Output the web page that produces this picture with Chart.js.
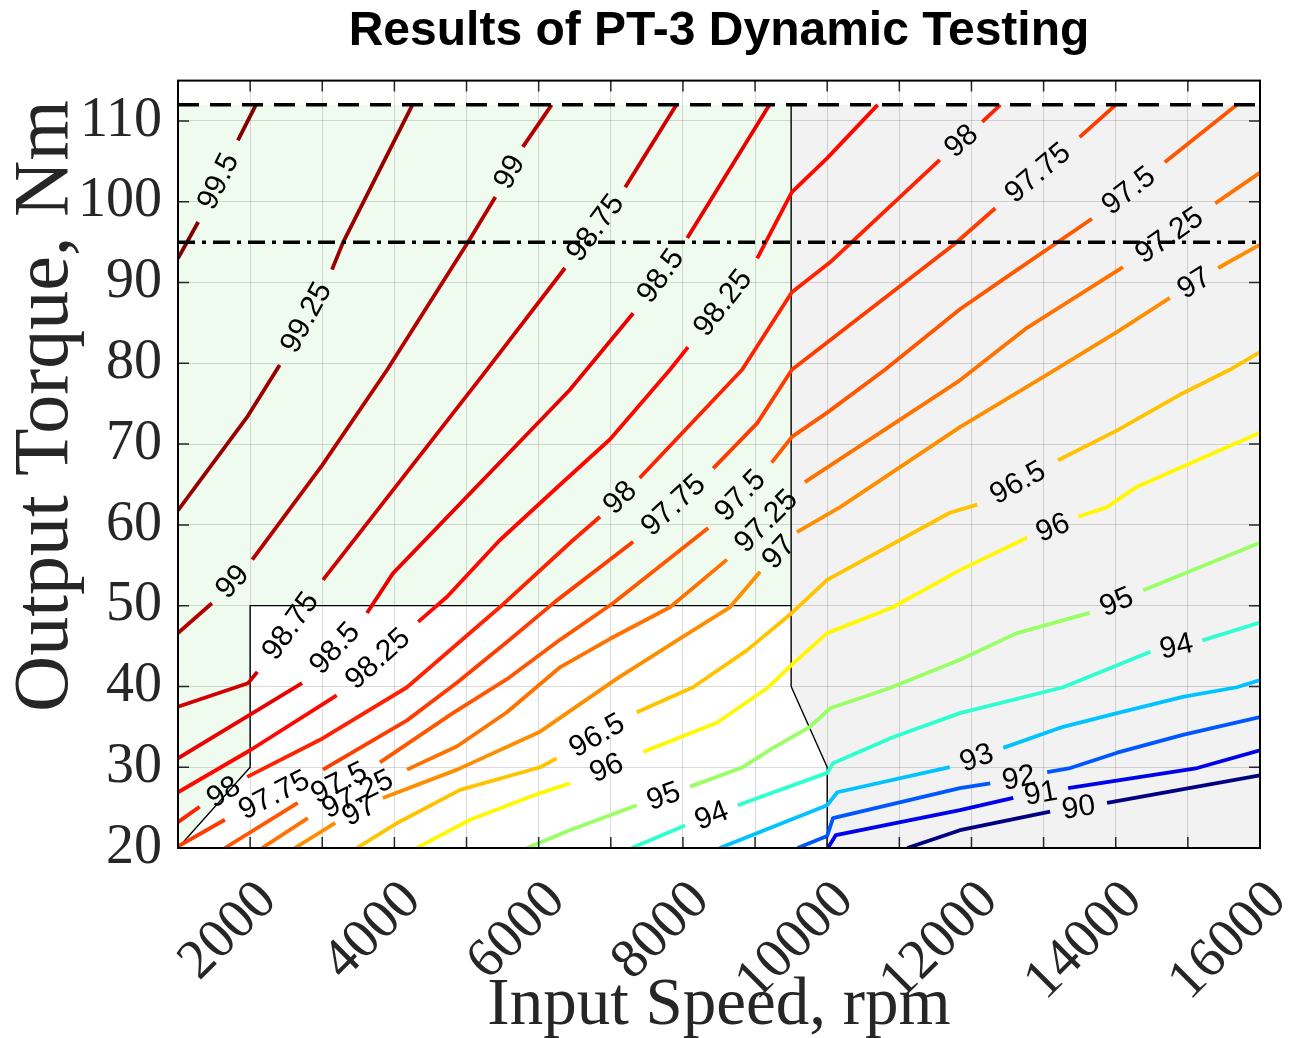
<!DOCTYPE html>
<html lang="en">
<head>
<meta charset="UTF-8">
<title>Results of PT-3 Dynamic Testing</title>
<script src="https://cdn.jsdelivr.net/npm/chart.js"></script>
<style>
  html, body { margin: 0; padding: 0; background: #fff; }
  .chart-container { width: 1306px; height: 1038px; }
</style>
</head>
<body>
<div class="chart-container"><canvas id="myChart" width="1306" height="1038"></canvas></div>
<script>
// axes
const speedRange = [1000, 16000];
const torqueRange = [20, 115];
const speedTickLabels = [2000, 4000, 6000, 8000, 10000, 12000, 14000, 16000];
const torqueTickLabels = [20, 30, 40, 50, 60, 70, 80, 90, 100, 110];

// operating regions [rpm, Nm]
const greenRegion = [[1000, 20], [2000, 30], [2000, 50], [9500, 50], [9500, 112], [1000, 112]];
const grayRegion = [[9500, 112], [9500, 40], [10000, 30], [10000, 20], [16000, 20], [16000, 112]];
const boundaryLow = [[1000, 20], [2000, 30], [2000, 50], [9500, 50]];
const boundaryHigh = [[9500, 112], [9500, 40], [10000, 30], [10000, 20]];
const peakTorque = 112;
const contTorque = 95;

// efficiency contours, each is a list of pieces; a label sits in every gap
const contourLevels = [90, 91, 92, 93, 94, 95, 96, 96.5, 97, 97.25, 97.5, 97.75, 98, 98.25, 98.5, 98.75, 99, 99.25, 99.5];
const c90 = [[[11110, 20], [11840, 22.2], [13090, 24.5]], [[13880, 25.6], [16000, 29.0]]];
const c91 = [[[10010, 20], [10120, 21.6], [11840, 24.7], [12580, 26.2]], [[13340, 27.4], [15130, 29.9], [16000, 32.1]]];
const c92 = [[[9590, 20], [10000, 21.5], [10080, 23.7], [11840, 27.4], [12260, 28.0]], [[13050, 29.4], [13370, 29.9], [14020, 31.8], [14930, 34.0], [16000, 36.2]]];
const c93 = [[[8510, 20], [10000, 25.3], [10140, 26.9], [11700, 30.0]], [[12440, 32.4], [13270, 35.0], [14020, 36.7], [14930, 38.7], [15680, 39.9], [16000, 40.8]]];
const c94 = [[[7290, 20], [8030, 22.8]], [[8760, 25.3], [10000, 29.3], [10080, 30.5], [10910, 33.7], [11840, 36.7], [13270, 39.9], [14480, 44.3]], [[15200, 45.7], [16000, 47.9]]];
const c95 = [[[5840, 20], [6430, 22.2], [7360, 25.3]], [[8100, 27.6], [8830, 30.0], [9250, 32.4], [9760, 35.0], [10040, 37.3], [10870, 39.8], [11840, 43.3], [12630, 46.6], [13640, 49.1]], [[14380, 51.9], [16000, 57.8]]];
const c96 = [[[4310, 20], [5050, 23.5], [6020, 26.8], [6430, 28.0]], [[7450, 31.9], [8470, 35.5], [9170, 39.8], [9510, 42.7], [10000, 46.6], [10910, 49.8], [11840, 54.4], [12770, 58.4]], [[13480, 61.0], [13880, 62.2], [14290, 64.7], [15540, 69.6], [16000, 71.4]]];
const c96_5 = [[[3480, 20], [4040, 23.1], [4910, 27.2], [6020, 30.0], [6250, 31.1]], [[7360, 36.8], [8140, 39.9], [8890, 44.5], [9510, 49.1], [10000, 53.2], [11700, 61.5], [12080, 62.5]], [[13200, 68.0], [14020, 71.7], [14930, 76.3], [15580, 79.2], [16000, 81.4]]];
const c97 = [[[2620, 20], [3180, 23.1]], [[3840, 26.2], [4870, 29.7], [6020, 34.4], [7090, 41.0], [7920, 45.7], [8650, 49.8], [9070, 54.2]], [[9580, 59.1], [10180, 62.2], [11840, 72.1], [13050, 78.6], [14020, 83.9], [14750, 88.1]], [[15420, 91.8], [16000, 94.7]]];
const c97_25 = [[[2165, 20], [2800, 23.7]], [[4175, 29.7], [4870, 32.6], [5560, 36.8], [6300, 42.4], [6990, 45.9], [7820, 49.8], [8610, 55.7]], [[9690, 65.3], [11840, 77.9], [12770, 84.4], [14100, 91.9]], [[15380, 99.8], [16000, 103.6]]];
const c97_5 = [[[1650, 20], [2660, 25.6]], [[3800, 30.6], [4810, 36.7], [5560, 40.9], [6300, 45.8], [7030, 50.3], [8350, 59.6]], [[9230, 67.7], [9510, 70.9], [10000, 73.9], [10800, 79.2], [11840, 86.7], [12440, 90.4], [13670, 97.9]], [[14680, 104.9], [15680, 112]]];
const c97_75 = [[[1000, 20.2], [1650, 23.5]], [[3010, 29.7], [4175, 35.8], [4870, 40.5], [5560, 45.5], [6230, 50.5], [7310, 57.9]], [[8420, 67.0], [9030, 72.6], [9510, 79.2], [11770, 94.8], [12330, 99.2]], [[13500, 108.0], [14000, 112]]];
const c98 = [[[1000, 23.2], [1300, 25.1]], [[1960, 28.8], [2970, 33.4], [4175, 39.9], [5460, 49.8], [6475, 58.1], [6850, 61.0]], [[7400, 65.8], [8820, 79.2], [9510, 88.8], [10040, 92.5], [11560, 105.2]], [[12150, 109.9], [12400, 112]]];
const c98_25 = [[[1000, 26.9], [2000, 32.1], [3200, 38.9]], [[4330, 48.0], [4730, 51.1], [5460, 58.1], [6300, 65.0], [6990, 70.6], [7820, 79.2], [8070, 82.0]], [[9030, 93.0], [9510, 101.2], [10000, 105.4], [10700, 112]]];
const c98_5 = [[[1000, 31.1], [2000, 36.5], [2720, 40.4]], [[3620, 49.1], [3980, 54.0], [6430, 76.7], [7310, 86.2]], [[8060, 95.5], [9200, 112]]];
const c98_75 = [[[1000, 37.5], [1970, 40.4], [2100, 41.8]], [[3010, 53.2], [5230, 78.6], [6365, 91.8]], [[7200, 101.8], [7910, 112]]];
const c99 = [[[1000, 46.6], [1470, 50.3]], [[2030, 55.7], [3000, 67.4], [3900, 79.2], [5020, 95.0], [5400, 100.6]], [[5780, 106.8], [6180, 112]]];
const c99_25 = [[[1000, 61.8], [1970, 73.5], [2410, 79.8]], [[3135, 91.6], [3290, 95.0], [4250, 112]]];
const c99_5 = [[[1000, 93.0], [1280, 97.5]], [[1830, 107.6], [2080, 112]]];
const contourLines = [c90, c91, c92, c93, c94, c95, c96, c96_5, c97, c97_25, c97_5, c97_75, c98, c98_25, c98_5, c98_75, c99, c99_25, c99_5];

const serif = "'Liberation Serif', 'Times New Roman', serif";
const sans = "'Liberation Sans', Arial, sans-serif";

// MATLAB jet colours over the level range
function jet(level) {
    const lo = contourLevels[0], hi = contourLevels[contourLevels.length - 1];
    const t = (level - lo) / (hi - lo);
    const f = v => Math.round(255 * Math.max(0, Math.min(1, v)));
    return `rgb(${f(Math.min(4 * t - 1.5, -4 * t + 4.5))},${f(Math.min(4 * t - 0.5, -4 * t + 3.5))},${f(Math.min(4 * t + 0.5, -4 * t + 2.5))})`;
}

const toXY = pts => pts.map(([s, t]) => ({ x: s, y: t }));

function lineSet(pts, color, width, dash) {
    return {
        data: toXY(pts), showLine: true, borderColor: color, borderWidth: width,
        borderDash: dash || [], pointRadius: 0, fill: false, tension: 0,
        borderJoinStyle: 'round', borderCapStyle: 'butt'
    };
}

const datasets = [];
// reference torque lines on top
datasets.push(lineSet([[speedRange[0], contTorque], [speedRange[1], contTorque]], '#000', 3.5, [17, 7, 4, 7]));
datasets.push(lineSet([[speedRange[0], peakTorque], [speedRange[1], peakTorque]], '#000', 3.5, [21, 11]));
contourLines.forEach((pieces, k) => {
    pieces.forEach(p => datasets.push(lineSet(p, jet(contourLevels[k]), 3.8)));
});
datasets.push(lineSet(boundaryLow, '#000', 1.4));
datasets.push(lineSet(boundaryHigh, '#000', 1.4));

const regionFill = {
    id: 'regionFill',
    beforeDraw(chart) {
        const { ctx, scales: { x, y } } = chart;
        [[greenRegion, '#f0fbef'], [grayRegion, '#f2f2f2']].forEach(([poly, col]) => {
            ctx.save();
            ctx.beginPath();
            poly.forEach(([s, t], i) => {
                const px = x.getPixelForValue(s), py = y.getPixelForValue(t);
                if (i) ctx.lineTo(px, py); else ctx.moveTo(px, py);
            });
            ctx.closePath();
            ctx.fillStyle = col;
            ctx.fill();
            ctx.restore();
        });
    }
};

const contourLabels = {
    id: 'contourLabels',
    afterDatasetsDraw(chart) {
        const { ctx, scales: { x, y } } = chart;
        ctx.save();
        ctx.font = `30px ${sans}`;
        ctx.fillStyle = '#000';
        ctx.textAlign = 'center';
        ctx.textBaseline = 'middle';
        contourLines.forEach((pieces, k) => {
            for (let i = 0; i < pieces.length - 1; i++) {
                const a = pieces[i][pieces[i].length - 1], b = pieces[i + 1][0];
                const ax = x.getPixelForValue(a[0]), ay = y.getPixelForValue(a[1]);
                const bx = x.getPixelForValue(b[0]), by = y.getPixelForValue(b[1]);
                ctx.save();
                ctx.translate((ax + bx) / 2, (ay + by) / 2);
                ctx.rotate(Math.atan2(by - ay, bx - ax));
                ctx.fillText(String(contourLevels[k]), 0, 1);
                ctx.restore();
            }
        });
        ctx.restore();
    }
};

// box with inward ticks on all four sides
const axesBox = {
    id: 'axesBox',
    afterDraw(chart) {
        const { ctx, chartArea: a, scales: { x, y } } = chart;
        const len = 11;
        ctx.save();
        ctx.strokeStyle = '#262626';
        ctx.lineWidth = 1.5;
        ctx.beginPath();
        x.ticks.forEach(t => {
            const px = x.getPixelForValue(t.value);
            ctx.moveTo(px, a.bottom); ctx.lineTo(px, a.bottom - len);
            ctx.moveTo(px, a.top); ctx.lineTo(px, a.top + len);
        });
        y.ticks.forEach(t => {
            const py = y.getPixelForValue(t.value);
            ctx.moveTo(a.left, py); ctx.lineTo(a.left + len, py);
            ctx.moveTo(a.right, py); ctx.lineTo(a.right - len, py);
        });
        ctx.stroke();
        ctx.lineWidth = 2;
        ctx.strokeStyle = '#000';
        ctx.strokeRect(a.left, a.top, a.right - a.left, a.bottom - a.top);
        ctx.restore();
    }
};

new Chart(document.getElementById('myChart'), {
    type: 'scatter',
    data: { datasets: datasets },
    options: {
        responsive: false,
        animation: false,
        events: [],
        layout: { padding: { left: 0, right: 46, top: 0, bottom: 0 } },
        plugins: {
            legend: { display: false },
            tooltip: { enabled: false },
            title: {
                display: true,
                fullSize: false,
                text: 'Results of PT-3 Dynamic Testing',
                color: '#000',
                font: { family: sans, size: 48, weight: 'bold' },
                padding: { top: 3, bottom: 20 }
            }
        },
        scales: {
            x: {
                type: 'linear',
                min: speedRange[0],
                max: speedRange[1],
                afterFit(scale) { scale.height = 190; scale.paddingLeft = 0; scale.paddingRight = 0; },
                border: { display: false },
                grid: { color: 'rgba(0,0,0,0.14)', lineWidth: 1, drawTicks: false },
                ticks: {
                    stepSize: 1000,
                    autoSkip: false,
                    minRotation: 45,
                    maxRotation: 45,
                    padding: 20,
                    labelOffset: 18,
                    color: '#262626',
                    font: { family: serif, size: 56 },
                    callback: v => speedTickLabels.includes(v) ? String(v) : ''
                },
                title: {
                    display: true,
                    text: 'Input Speed, rpm',
                    color: '#262626',
                    font: { family: serif, size: 67, lineHeight: 1 },
                    padding: { top: 0, bottom: -2 }
                }
            },
            y: {
                type: 'linear',
                min: torqueRange[0],
                max: torqueRange[1],
                afterFit(scale) { scale.width = 178; },
                border: { display: false },
                grid: { color: 'rgba(0,0,0,0.14)', lineWidth: 1, drawTicks: false },
                ticks: {
                    stepSize: 10,
                    includeBounds: false,
                    padding: 16,
                    color: '#262626',
                    font: { family: serif, size: 56 },
                    callback: v => torqueTickLabels.includes(v) ? String(v) : ''
                },
                title: {
                    display: true,
                    align: 'end',
                    text: 'Output Torque, Nm\u00a0',
                    color: '#262626',
                    font: { family: serif, size: 78 },
                    padding: { top: 0, bottom: 0 }
                }
            }
        }
    },
    plugins: [regionFill, contourLabels, axesBox]
});
</script>
</body>
</html>
